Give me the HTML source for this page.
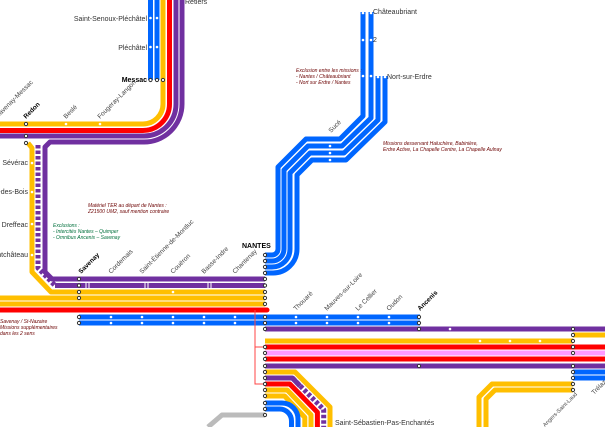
<!DOCTYPE html>
<html><head><meta charset="utf-8"><style>
html,body{margin:0;padding:0;background:#fff;}
svg{display:block;font-family:"Liberation Sans",sans-serif;}
.l{fill:none;stroke-width:5;stroke-linejoin:round}
.Y{stroke:#ffbf00}.R{stroke:#ff0000}.P{stroke:#7030a0}.B{stroke:#0066ff}.K{stroke:#ff99ff}.G{stroke:#bbbbbb}
.t{font-size:7px;fill:#333}
.r{font-size:6.5px;fill:#444}
.n{font-size:5px;font-style:italic;fill:#6b0000}
.g{font-size:5px;font-style:italic;fill:#00703c}
</style></head><body>
<svg width="605" height="427" viewBox="0 0 605 427" xmlns="http://www.w3.org/2000/svg">
<path class="l B" d="M150.5 0V80"/><path class="l B" d="M157 0V80"/>
<path class="l Y" d="M163 0V104A20 20 0 0 1 143 124H0"/>
<path class="l R" d="M169.5 0V104A26.5 26.5 0 0 1 143 130.5H0"/>
<path class="l P" d="M176 0V104A32 32 0 0 1 143 136H0"/>
<path class="l P" d="M182 0V104A38 38 0 0 1 143 142H50L45 147V272L52 279H265"/>
<path class="l Y" d="M28 143L32 148V272L51 292H265"/>
<path class="l P" d="M38 145V268L55 285.5H265" stroke-dasharray="3.5 2"/>
<path d="M55 285.5H265" stroke="#7030a0" stroke-width="5"/>
<path class="l Y" d="M0 298H265"/><path class="l Y" d="M0 304H265"/>
<path class="l R" d="M0 310H267" stroke-linecap="round"/>
<path class="l B" d="M79 317H420"/><path class="l B" d="M79 323H420"/>
<path class="l P" d="M265 329H605"/>
<path class="l Y" d="M265 341H573"/><path class="l Y" d="M573 335H605"/>
<path class="l R" d="M265 347H605"/><path class="l K" d="M265 353H605"/>
<path class="l R" d="M265 359H605"/><path class="l P" d="M265 366H605"/>
<path class="l B" d="M573 372H605"/><path class="l B" d="M573 378H605"/>
<path class="l Y" d="M265 372H295L330 407V427"/>
<path class="l P" d="M265 378H292.4L323.7 409.6V427" stroke-dasharray="3.5 2"/>
<path class="l P" d="M265 378H292.4L300 386"/>
<path class="l R" d="M265 384H289.8L317.4 412.2V427"/>
<path class="l Y" d="M265 390H287.2L311 414.8V427"/>
<path class="l Y" d="M265 396H284.6L304.8 417.4V427"/>
<path class="l B" d="M265 403H282A16 16 0 0 1 298 419V427"/>
<path class="l B" d="M265 409H279A12 12 0 0 1 291.5 421V427"/>
<path class="l G" d="M265 415H222L208 427"/>
<path class="l Y" d="M573 384H492L479 397V427"/>
<path class="l Y" d="M573 390H495L486 399V427"/>
<path d="M255 310V384H265M255 347H265" stroke="#ff4444" stroke-width="1" fill="none"/>
<path class="l B" d="M363 12V116L340 139H306L278 167V249A6 6 0 0 1 272 255H265"/>
<path class="l B" d="M371 12V118L342 146H308L284 170V249A12 12 0 0 1 272 261H265"/>
<path class="l B" d="M378 76V120L344 153H310L290 173V249A18 18 0 0 1 272 267H265"/>
<path class="l B" d="M385 76V122L346 160H312L297 175V249A24 24 0 0 1 272 273H265"/>
<g fill="#fff">
<circle cx="150.5" cy="18" r="1.3"/><circle cx="157" cy="18" r="1.3"/>
<circle cx="150.5" cy="47" r="1.3"/><circle cx="157" cy="47" r="1.3"/>
<circle cx="66" cy="124" r="1.3"/><circle cx="100" cy="124" r="1.3"/>
<circle cx="32" cy="163" r="1.3"/><circle cx="32" cy="192" r="1.3"/><circle cx="32" cy="224" r="1.3"/><circle cx="32" cy="255" r="1.3"/>
<circle cx="173" cy="292" r="1.3"/>
<circle cx="111" cy="317" r="1.3"/><circle cx="142" cy="317" r="1.3"/><circle cx="173" cy="317" r="1.3"/><circle cx="204" cy="317" r="1.3"/><circle cx="235" cy="317" r="1.3"/>
<circle cx="111" cy="323" r="1.3"/><circle cx="142" cy="323" r="1.3"/><circle cx="173" cy="323" r="1.3"/><circle cx="204" cy="323" r="1.3"/><circle cx="235" cy="323" r="1.3"/>
<circle cx="296" cy="317" r="1.3"/><circle cx="327" cy="317" r="1.3"/><circle cx="358" cy="317" r="1.3"/><circle cx="389" cy="317" r="1.3"/>
<circle cx="296" cy="323" r="1.3"/><circle cx="327" cy="323" r="1.3"/><circle cx="358" cy="323" r="1.3"/><circle cx="389" cy="323" r="1.3"/>
<circle cx="450" cy="329" r="1.3"/><circle cx="480" cy="341" r="1.3"/><circle cx="510" cy="341" r="1.3"/><circle cx="540" cy="341" r="1.3"/>
<circle cx="330" cy="133" r="1.3"/><circle cx="330" cy="146" r="1.3"/><circle cx="330" cy="153" r="1.3"/><circle cx="330" cy="160" r="1.3"/>
<circle cx="363" cy="40" r="1.3"/><circle cx="371" cy="40" r="1.3"/><circle cx="363" cy="76" r="1.3"/><circle cx="371" cy="76" r="1.3"/>
<circle cx="363" cy="13" r="1.3"/><circle cx="371" cy="13" r="1.3"/><circle cx="378" cy="77" r="1.3"/><circle cx="385" cy="77" r="1.3"/>
</g>
<g stroke="#fff" stroke-width="1">
<path d="M86 283V289M89 283V289M145 283V289M148 283V289M208 283V289M211 283V289"/>
</g>
<g fill="#fff" stroke="#333" stroke-width="1">
<circle cx="150.5" cy="80" r="1.6"/><circle cx="157" cy="80" r="1.6"/><circle cx="163" cy="80" r="1.6"/>
<circle cx="26" cy="124" r="1.6"/><circle cx="26" cy="136" r="1.6"/><circle cx="26" cy="143" r="1.6"/>
<circle cx="79" cy="279" r="1.6"/><circle cx="79" cy="285.5" r="1.6"/><circle cx="79" cy="292" r="1.6"/><circle cx="79" cy="298" r="1.6"/>
<circle cx="79" cy="317" r="1.6"/><circle cx="79" cy="323" r="1.6"/>
<circle cx="265" cy="255" r="1.6"/><circle cx="265" cy="261" r="1.6"/><circle cx="265" cy="267" r="1.6"/><circle cx="265" cy="273" r="1.6"/>
<circle cx="265" cy="279" r="1.6"/><circle cx="265" cy="285.5" r="1.6"/><circle cx="265" cy="292" r="1.6"/><circle cx="265" cy="298" r="1.6"/><circle cx="265" cy="304" r="1.6"/>
<circle cx="265" cy="317" r="1.6"/><circle cx="265" cy="323" r="1.6"/><circle cx="265" cy="329" r="1.6"/>
<circle cx="265" cy="347" r="1.6"/><circle cx="265" cy="353" r="1.6"/><circle cx="265" cy="359" r="1.6"/><circle cx="265" cy="366" r="1.6"/>
<circle cx="265" cy="372" r="1.6"/><circle cx="265" cy="378" r="1.6"/><circle cx="265" cy="384" r="1.6"/><circle cx="265" cy="390" r="1.6"/><circle cx="265" cy="396" r="1.6"/><circle cx="265" cy="403" r="1.6"/><circle cx="265" cy="409" r="1.6"/><circle cx="265" cy="415" r="1.6"/>
<circle cx="419" cy="317" r="1.6"/><circle cx="419" cy="323" r="1.6"/><circle cx="419" cy="329" r="1.6"/><circle cx="419" cy="366" r="1.6"/>
<circle cx="573" cy="329" r="1.6"/><circle cx="573" cy="335" r="1.6"/><circle cx="573" cy="341" r="1.6"/><circle cx="573" cy="347" r="1.6"/><circle cx="573" cy="353" r="1.6"/><circle cx="573" cy="366" r="1.6"/><circle cx="573" cy="372" r="1.6"/><circle cx="573" cy="378" r="1.6"/><circle cx="573" cy="384" r="1.6"/><circle cx="573" cy="390" r="1.6"/>
</g>
<g class="t">
<text x="185" y="4">Retiers</text>
<text x="147" y="21" text-anchor="end">Saint-Senoux-Pléchâtel</text>
<text x="147" y="50" text-anchor="end">Pléchâtel</text>
<text x="147" y="82" text-anchor="end" font-weight="bold" fill="#000">Messac</text>
<text x="28" y="165" text-anchor="end">Sévérac</text>
<text x="28" y="194" text-anchor="end">Campbon-Blain-as-des-Bois</text>
<text x="28" y="227" text-anchor="end">Dreffeac</text>
<text x="28" y="257" text-anchor="end">Pontchâteau</text>
<text x="242" y="248" font-weight="bold" fill="#000">NANTES</text>
<text x="373" y="14">Châteaubriant</text>
<text x="373" y="42">2</text>
<text x="387" y="79">Nort-sur-Erdre</text>
<text x="335" y="425">Saint-Sébastien-Pas-Enchantés</text>
</g>
<g class="r">
<text transform="translate(-2,118) rotate(-45)">Savenay-Messac</text>
<text transform="translate(26,119) rotate(-45)" font-weight="bold" fill="#000">Redon</text>
<text transform="translate(66,119) rotate(-45)">Beslé</text>
<text transform="translate(100,119) rotate(-45)">Fougeray-Langon</text>
<text transform="translate(81,274) rotate(-45)" font-weight="bold" fill="#000">Savenay</text>
<text transform="translate(111,274) rotate(-45)">Cordemais</text>
<text transform="translate(142,274) rotate(-45)">Saint-Étienne-de-Montluc</text>
<text transform="translate(173,274) rotate(-45)">Couëron</text>
<text transform="translate(204,274) rotate(-45)">Basse-Indre</text>
<text transform="translate(235,274) rotate(-45)">Chantenay</text>
<text transform="translate(296,311) rotate(-45)">Thouaré</text>
<text transform="translate(327,311) rotate(-45)">Mauves-sur-Loire</text>
<text transform="translate(358,311) rotate(-45)">Le Cellier</text>
<text transform="translate(389,311) rotate(-45)">Oudon</text>
<text transform="translate(420,311) rotate(-45)" font-weight="bold" fill="#000">Ancenis</text>
<text transform="translate(331,133) rotate(-45)">Sucé</text>
<text transform="translate(545,427) rotate(-45)" font-size="5.5">Angers-Saint-Laud</text>
<text transform="translate(594,395) rotate(-45)">Trélazé</text>
</g>
<text class="n" x="88" y="207">Matériel TER au départ de Nantes :</text>
<text class="n" x="88" y="213">Z21500 UM2, sauf mention contraire</text>
<text class="g" x="53" y="227">Exclusions :</text>
<text class="g" x="53" y="233">- Intercités Nantes – Quimper</text>
<text class="g" x="53" y="239">- Omnibus Ancenis – Savenay</text>
<text class="n" x="296" y="72">Exclusion entre les missions :</text>
<text class="n" x="296" y="78">- Nantes / Châteaubriant</text>
<text class="n" x="296" y="84">- Nort sur Erdre / Nantes</text>
<text class="n" x="383" y="145">Missions desservant Haluchère, Babinière,</text>
<text class="n" x="383" y="151">Erdre Active, La Chapelle Centre, La Chapelle Aulnay</text>
<text class="n" x="0" y="323">Savenay / St-Nazaire</text>
<text class="n" x="0" y="329">Missions supplémentaires</text>
<text class="n" x="0" y="335">dans les 2 sens</text>
</svg>
</body></html>
